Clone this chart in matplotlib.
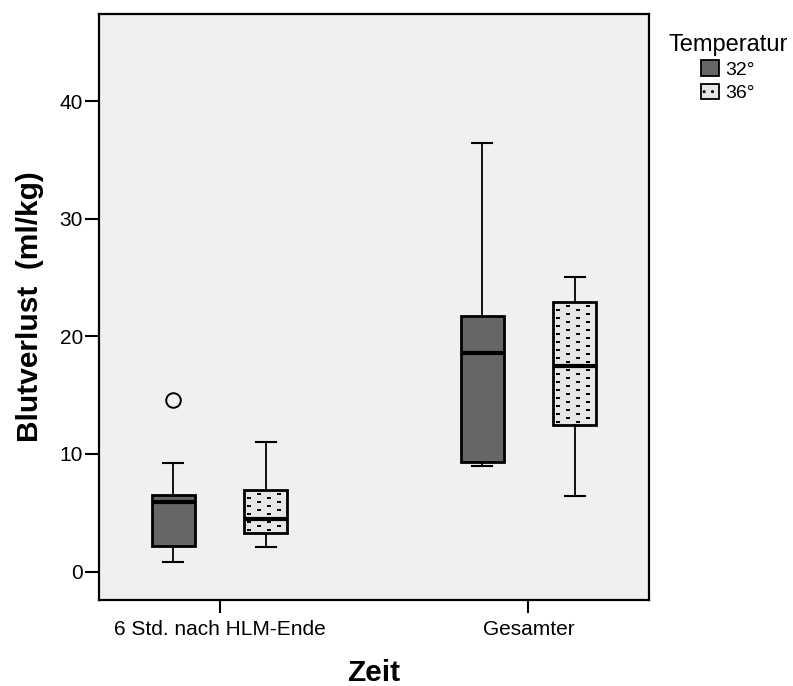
import numpy as np
import matplotlib
matplotlib.use("Agg")
import matplotlib.pyplot as plt
from matplotlib.patches import Patch

plt.rcParams["font.family"] = ["Liberation Sans", "DejaVu Sans"]

# Blutverlust je Zeitpunkt und Temperatur (Boxplot-Kennwerte, ml/kg)
zeit = ["6 Std. nach HLM-Ende", "Gesamter"]
temperatur = ["32°", "36°"]

median_32 = [5.9, 18.6]
q1_32 = [2.2, 9.3]
q3_32 = [6.5, 21.7]
whislo_32 = [0.85, 9.0]
whishi_32 = [9.2, 36.4]
fliers_32 = [[14.6], []]

median_36 = [4.45, 17.5]
q1_36 = [3.25, 12.45]
q3_36 = [6.9, 22.9]
whislo_36 = [2.1, 6.45]
whishi_36 = [11.0, 25.0]
fliers_36 = [[], []]

FARBE_32 = "#666666"
FARBE_36 = "#e6e6e6"
HINTERGRUND = "#f0f0f0"

fig = plt.figure(figsize=(7.93, 6.86), dpi=100)
ax = fig.add_axes([99 / 793, 1 - 600 / 686, 550 / 793, 586 / 686])
ax.set_facecolor(HINTERGRUND)
ax.set_xlim(-0.39, 1.39)
ax.set_ylim(-2.42, 47.4)


def kennwerte(med, q1, q3, lo, hi, fl):
    return [dict(med=med[i], q1=q1[i], q3=q3[i], whislo=lo[i], whishi=hi[i],
                 fliers=fl[i]) for i in range(len(med))]


versatz = 0.15
breite = 0.14
pos = np.arange(len(zeit))

gemeinsam = dict(
    widths=breite, patch_artist=True, showfliers=True, capwidths=0.066,
    boxprops=dict(edgecolor="black", linewidth=2.0),
    medianprops=dict(color="black", linewidth=3.0, solid_capstyle="butt"),
    whiskerprops=dict(color="black", linewidth=1.3),
    capprops=dict(color="black", linewidth=1.5),
    flierprops=dict(marker="o", markersize=10.5, markerfacecolor="none",
                    markeredgecolor="black", markeredgewidth=1.4),
)

b32 = ax.bxp(kennwerte(median_32, q1_32, q3_32, whislo_32, whishi_32, fliers_32),
             positions=pos - versatz, **gemeinsam)
b36 = ax.bxp(kennwerte(median_36, q1_36, q3_36, whislo_36, whishi_36, fliers_36),
             positions=pos + versatz, **gemeinsam)
for box in b32["boxes"]:
    box.set_facecolor(FARBE_32)
for box in b36["boxes"]:
    box.set_facecolor(FARBE_36)

# Strichmuster in den 36°-Boxen (versetzte kurze Striche, in Pixeln angelegt)
inv = ax.transData.inverted()
for i, box in enumerate(b36["boxes"]):
    x0, y0 = ax.transData.transform((pos[i] + versatz - breite / 2, q1_36[i]))
    x1, y1 = ax.transData.transform((pos[i] + versatz + breite / 2, q3_36[i]))
    punkte = []
    for k, yy in enumerate(np.arange(y0 + 3, y1 - 1, 4.0)):
        start = x0 + 5 + (10 if k % 2 else 0)
        for xx in np.arange(start, x1 - 2, 20.0):
            punkte.append((xx, yy))
    punkte = inv.transform(np.array(punkte))
    ax.plot(punkte[:, 0], punkte[:, 1], ls="none", marker="_", markersize=3.4,
            markeredgewidth=1.2, color="black", clip_path=box, zorder=box.get_zorder() + 0.1)

ax.set_xticks(pos)
ax.set_xticklabels(zeit, fontsize=15)
ax.set_yticks([0, 10, 20, 30, 40])
ax.tick_params(axis="y", labelsize=15, length=10, width=1.5, pad=1.5)
ax.tick_params(axis="x", length=9.5, width=1.5, pad=5)
for s in ax.spines.values():
    s.set_linewidth(1.6)
    s.set_color("black")

ax.set_ylabel("Blutverlust  (ml/kg)", fontsize=21.5, fontweight="bold", labelpad=11)
ax.set_xlabel("Zeit", fontsize=21.5, fontweight="bold", labelpad=14)

handles = [
    Patch(facecolor=FARBE_32, edgecolor="black", linewidth=1.3, label=temperatur[0]),
    Patch(facecolor=FARBE_36, edgecolor="black", linewidth=1.3, hatch="..", label=temperatur[1]),
]
fig.legend(handles=handles, loc="upper left", bbox_to_anchor=(655 / 793, 1 - 20 / 686),
           frameon=False, title="Temperatur", title_fontsize=17, fontsize=14,
           handlelength=0.9, handleheight=0.85, handletextpad=0.35,
           labelspacing=0.25, borderpad=0.2)

fig.savefig("out.png", dpi=100)
